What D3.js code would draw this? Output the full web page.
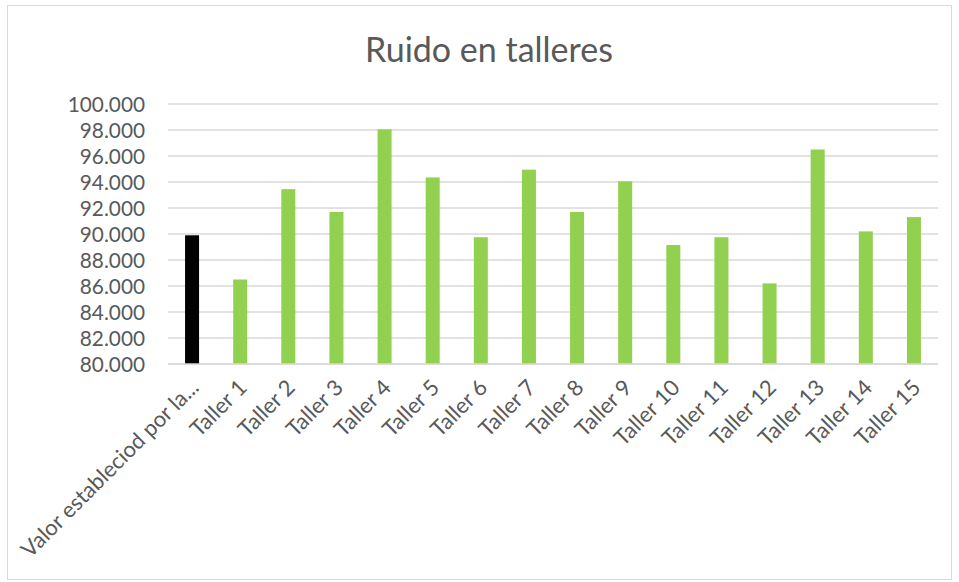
<!DOCTYPE html>
<html>
<head>
<meta charset="utf-8">
<script src="https://cdn.jsdelivr.net/npm/d3@7"></script>
<style>
  html, body { margin: 0; padding: 0; background: #fff; }
  svg { display: block; }
</style>
</head>
<body>
<svg id="chart" width="959" height="582"></svg>
<script>
// Noise level per workshop, compared against the established limit
const categories = ["Valor estableciod por la...", "Taller 1", "Taller 2", "Taller 3", "Taller 4",
  "Taller 5", "Taller 6", "Taller 7", "Taller 8", "Taller 9", "Taller 10", "Taller 11",
  "Taller 12", "Taller 13", "Taller 14", "Taller 15"];
const values = [89.9, 86.5, 93.45, 91.7, 98.05, 94.35, 89.75, 94.95, 91.7, 94.05,
  89.15, 89.75, 86.2, 96.5, 90.2, 91.3];
const yTicks = [80, 82, 84, 86, 88, 90, 92, 94, 96, 98, 100];
const chartTitle = "Ruido en talleres";

const svg = d3.select("#chart");
const plot = { left: 168, right: 938, top: 104, bottom: 364 };
const font = "Lato, 'Open Sans', sans-serif";
const textColor = "#595959";
const gridColor = "#d9d9d9";

// chart area border
svg.append("rect")
  .attr("x", 7.5).attr("y", 5.5)
  .attr("width", 944).attr("height", 574)
  .attr("fill", "#fff")
  .attr("stroke", gridColor).attr("stroke-width", 1);

svg.append("text")
  .attr("x", 489).attr("y", 62)
  .attr("text-anchor", "middle")
  .attr("font-family", font)
  .attr("font-size", 34)
  .attr("fill", textColor)
  .text(chartTitle);

const pad = 0.709;
const x = d3.scaleBand()
  .domain(categories)
  .range([plot.left, plot.right])
  .paddingInner(pad)
  .paddingOuter(pad / 2);

const y = d3.scaleLinear()
  .domain([80, 100])
  .range([plot.bottom, plot.top]);

// horizontal gridlines
svg.append("g")
  .selectAll("line")
  .data(yTicks)
  .join("line")
  .attr("x1", plot.left).attr("x2", plot.right)
  .attr("y1", d => y(d)).attr("y2", d => y(d))
  .attr("stroke", gridColor)
  .attr("stroke-width", 1.5);

// y axis labels
const yAxis = d3.axisLeft(y)
  .tickValues(yTicks)
  .tickFormat(d3.format(".3f"))
  .tickSize(0)
  .tickPadding(0);
const gy = svg.append("g")
  .attr("transform", `translate(${plot.left - 23},0)`)
  .call(yAxis);
gy.select(".domain").remove();
gy.selectAll("text")
  .attr("font-family", font)
  .attr("font-size", 20.8)
  .attr("fill", textColor)
  .attr("dy", "0.36em");

// bars
svg.append("g")
  .selectAll("rect")
  .data(categories.map((c, i) => ({ c, v: values[i], i })))
  .join("rect")
  .attr("x", d => x(d.c))
  .attr("width", x.bandwidth())
  .attr("y", d => y(d.v))
  .attr("height", d => y(80) - y(d.v))
  .attr("fill", d => d.i === 0 ? "#000000" : "#92d050");

// category axis
const xAxis = d3.axisBottom(x).tickSize(0).tickPadding(0);
const gx = svg.append("g")
  .attr("transform", `translate(0,${plot.bottom})`)
  .call(xAxis);
gx.select(".domain").remove();
gx.selectAll("text")
  .attr("font-family", font)
  .attr("font-size", 22)
  .attr("fill", textColor)
  .attr("text-anchor", "end")
  .attr("dy", null)
  .attr("y", 0)
  .attr("transform", "translate(8,25) rotate(-45)");

// base line
svg.append("line")
  .attr("x1", plot.left).attr("x2", plot.right)
  .attr("y1", plot.bottom).attr("y2", plot.bottom)
  .attr("stroke", gridColor)
  .attr("stroke-width", 1.5);
</script>
</body>
</html>
